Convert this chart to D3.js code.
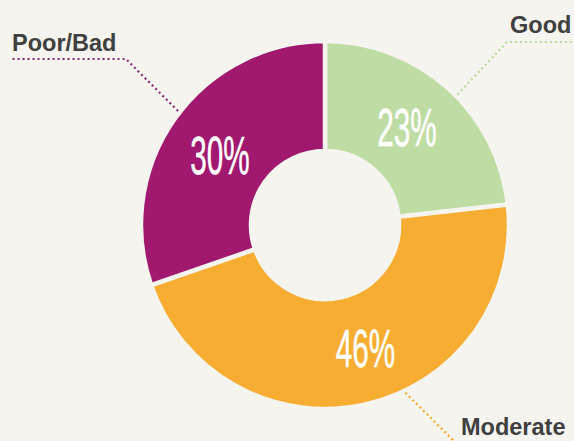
<!DOCTYPE html>
<html>
<head>
<meta charset="utf-8">
<script src="https://cdn.jsdelivr.net/npm/d3@7"></script>
<style>
  html, body { margin: 0; padding: 0; background: #f5f4ee; }
  svg { display: block; }
</style>
</head>
<body>
<div id="chart"></div>
<script>
// data
const categories = ["Good", "Moderate", "Poor/Bad"];
const values = [23, 46, 30];
const colors = ["#bfdca5", "#f7ad31", "#a0196e"];
const lineColors = ["#b9dba0", "#f6a82a", "#8c2873"];

const width = 574, height = 441;
const cx = 325, cy = 225;
const outerR = 184, innerR = 74;
const bg = "#f5f4ee";

const svg = d3.select("#chart")
    .append("svg")
    .attr("width", width)
    .attr("height", height)
    .style("background", bg);

const pie = d3.pie().sort(null).value(d => d.value);
const arcs = pie(categories.map((c, i) => ({ name: c, value: values[i], color: colors[i], line: lineColors[i] })));

const arc = d3.arc().innerRadius(innerR).outerRadius(outerR);
const labelArc = d3.arc().innerRadius(129).outerRadius(129);

// layout for call-outs (angles in degrees, nudges in px)
const callout = {
    "Good":     { nudge: [-4, -2], angle: 45.4,  elbow: [507, 42],  end: [580, 42],  text: [510, 33] },
    "Moderate": { nudge: [12, -3], angle: 154.4, elbow: [458, 445], end: [580, 445], text: [461, 435] },
    "Poor/Bad": { nudge: [0, 5],   angle: 307.8, elbow: [126, 59],  end: [10, 59],   text: [12, 51] }
};

const g = svg.append("g").attr("transform", `translate(${cx},${cy})`);

// slices
g.selectAll(".slice")
    .data(arcs)
    .enter()
    .append("path")
    .attr("class", "slice")
    .attr("d", arc)
    .attr("fill", d => d.data.color)
    .attr("stroke", bg)
    .attr("stroke-width", 4.5);

// percent labels (condensed look)
g.selectAll(".pct")
    .data(arcs)
    .enter()
    .append("text")
    .attr("class", "pct")
    .attr("transform", d => {
        const [x, y] = labelArc.centroid(d);
        const n = callout[d.data.name].nudge;
        return `translate(${x + n[0]},${y + n[1] + 19}) scale(0.56,1)`;
    })
    .attr("text-anchor", "middle")
    .style("font-family", "'Liberation Sans Narrow', 'Liberation Sans', Arial, sans-serif")
    .style("font-size", "53px")
    .style("fill", "#ffffff")
    .style("stroke", "#ffffff")
    .style("stroke-width", 0.5)
    .text(d => d.data.value + "%");

// leader lines + category labels
arcs.forEach(d => {
    const c = callout[d.data.name];
    const a = c.angle * Math.PI / 180;
    const start = [cx + Math.sin(a) * 186, cy - Math.cos(a) * 186];
    svg.append("path")
        .attr("d", d3.line()([start, c.elbow, c.end]))
        .attr("fill", "none")
        .attr("stroke", d.data.line)
        .attr("stroke-width", 2.2)
        .attr("stroke-dasharray", "2,3");

    svg.append("text")
        .attr("x", c.text[0])
        .attr("y", c.text[1])
        .style("font-family", "'Liberation Sans', Arial, sans-serif")
        .style("font-weight", "bold")
        .style("font-size", "23.5px")
        .style("fill", "#404040")
        .text(d.data.name);
});
</script>
</body>
</html>
